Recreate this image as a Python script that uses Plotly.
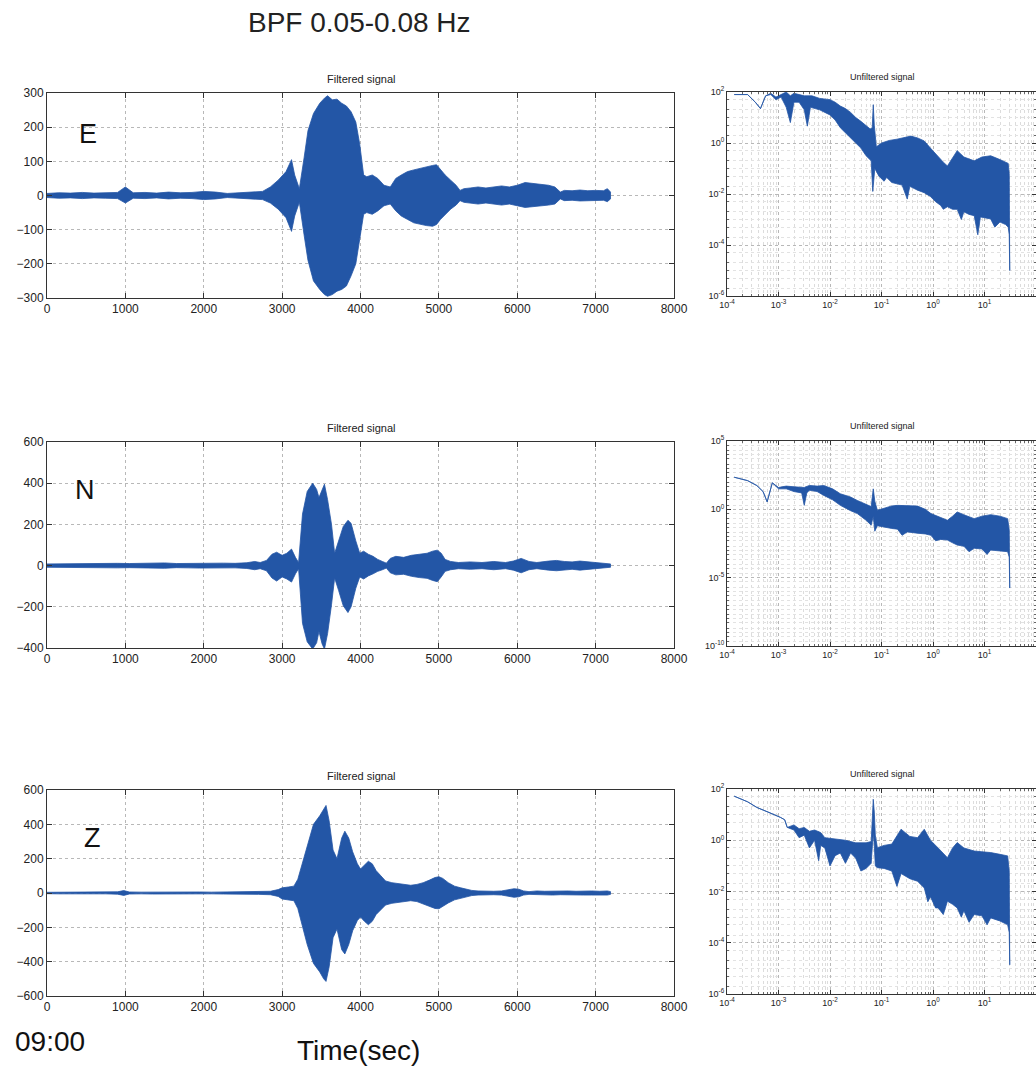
import plotly.graph_objects as go

# ---------------- data: filtered signal envelopes (time s, upper, lower) ----------------
E_t = [0,150,300,450,600,750,900,1000,1100,1250,1400,1550,1700,1850,2000,2150,2300,2450,2600,2750,
       2850,2950,3050,3120,3160,3220,3280,3330,3400,3480,3540,3580,3640,3700,3760,3820,3880,3940,3990,4040,
       4080,4150,4220,4300,4380,4450,4520,4600,4680,4760,4840,4920,4970,5020,5080,5150,5220,5270,5320,5400,
       5500,5600,5700,5800,5900,6000,6100,6200,6300,6400,6480,6550,6600,6700,6800,6900,7000,7100,7150,7190]
E_up = [6,8,7,9,7,8,9,25,8,9,7,10,8,9,12,10,6,8,10,12,
        25,45,70,105,60,20,110,190,240,270,285,292,280,282,270,262,245,215,150,60,
        55,60,50,30,25,50,60,70,75,80,85,88,90,75,60,45,30,15,20,22,
        25,22,25,28,25,30,38,35,32,30,25,10,15,14,16,14,15,14,20,10]
E_lo = [-6,-8,-7,-9,-7,-8,-9,-22,-8,-9,-7,-10,-8,-9,-12,-10,-6,-8,-10,-12,
        -22,-40,-65,-105,-60,-20,-115,-190,-250,-275,-290,-295,-290,-280,-275,-265,-235,-200,-130,-55,
        -50,-55,-45,-30,-25,-45,-60,-70,-80,-85,-88,-90,-85,-70,-55,-40,-28,-15,-20,-22,
        -25,-22,-25,-28,-25,-30,-35,-33,-30,-28,-25,-10,-15,-14,-16,-14,-15,-14,-18,-10]

N_t = [0,150,300,450,600,750,900,1050,1200,1350,1500,1650,1800,1950,2100,2250,2400,2550,2650,2720,
       2800,2870,2930,3000,3060,3120,3170,3210,3260,3320,3390,3440,3470,3510,3540,3580,3630,3670,3720,3780,
       3840,3880,3940,3990,4040,4100,4160,4220,4280,4330,4380,4450,4550,4650,4750,4850,4920,4980,5030,5080,
       5150,5250,5400,5550,5700,5850,5950,6050,6150,6250,6400,6500,6600,6700,6800,6900,7000,7100,7190]
N_up = [8,9,8,10,9,10,11,10,12,11,13,10,11,12,10,12,11,14,20,15,
        25,55,65,50,60,80,40,15,250,360,400,370,330,370,395,320,200,60,120,190,
        220,205,120,60,70,55,45,30,20,12,35,45,40,50,55,60,70,75,60,30,
        20,15,18,15,20,15,22,35,20,15,22,25,20,18,22,18,15,12,8]
N_lo = [-8,-9,-8,-10,-9,-10,-11,-10,-12,-11,-13,-10,-11,-12,-10,-12,-11,-14,-20,-15,
        -25,-60,-75,-55,-65,-80,-40,-15,-280,-370,-405,-375,-320,-380,-405,-330,-190,-60,-120,-195,
        -228,-200,-110,-55,-65,-50,-40,-28,-20,-12,-35,-45,-42,-52,-58,-62,-72,-78,-55,-28,
        -20,-15,-18,-15,-20,-15,-22,-35,-20,-15,-22,-25,-20,-18,-22,-18,-15,-12,-8]

Z_t = [0,150,300,450,600,750,900,980,1050,1200,1350,1500,1650,1800,1950,2100,2250,2400,2550,2700,
       2850,2950,3000,3080,3150,3200,3260,3320,3400,3480,3530,3560,3600,3650,3700,3760,3800,3850,3900,3960,
       4000,4050,4100,4150,4200,4260,4320,4400,4480,4560,4640,4720,4800,4880,4950,5000,5050,5120,5200,5280,
       5350,5420,5500,5600,5700,5800,5900,5960,6020,6080,6150,6250,6350,6450,6550,6650,6750,6850,6950,7050,
       7150,7190]
Z_up = [4,5,4,5,6,5,7,14,6,5,6,5,6,5,6,5,6,5,6,8,
        10,20,30,35,40,80,180,280,400,450,490,510,420,250,200,320,360,320,240,170,
        140,160,185,170,130,100,70,60,55,50,45,50,60,75,90,95,85,60,40,30,
        22,15,12,10,10,12,20,25,22,12,8,12,10,12,10,12,10,12,12,10,
        12,8]
Z_lo = [-4,-5,-4,-5,-6,-5,-7,-14,-6,-5,-6,-5,-6,-5,-6,-5,-6,-5,-6,-8,
        -10,-20,-35,-40,-45,-90,-200,-300,-410,-460,-500,-515,-430,-260,-210,-330,-355,-300,-220,-160,
        -140,-165,-185,-165,-125,-95,-70,-60,-55,-50,-45,-50,-62,-78,-90,-92,-80,-58,-40,-30,
        -22,-15,-12,-10,-10,-12,-20,-25,-22,-12,-8,-12,-10,-12,-10,-12,-10,-12,-12,-10,
        -12,-8]

# ---------------- data: unfiltered spectra envelopes (log10 f, log10 amplitude) ----------------
SE_up_lf = [-3.86,-3.6,-3.45,-3.35,-3.25,-3.15,-3.05,-2.95,-2.85,-2.77,
            -2.7,-2.6,-2.5,-2.35,-2.2,-2.0,-1.9,-1.8,-1.7,-1.6,
            -1.5,-1.4,-1.3,-1.22,-1.18,-1.16,-1.14,-1.1,-1.0,-0.85,
            -0.7,-0.55,-0.43,-0.3,-0.17,-0.05,0.1,0.2,0.28,0.38,
            0.47,0.6,0.8,0.95,1.12,1.3,1.41,1.46,1.48,1.49]
SE_up = [1.9,1.9,1.6,1.35,1.85,1.95,1.8,1.9,2.0,1.85,
         1.95,1.9,1.85,1.85,1.75,1.7,1.6,1.45,1.35,1.2,
         1.0,0.85,0.7,0.55,0.6,1.5,0.7,-0.15,0.0,0.1,
         0.15,0.2,0.27,0.2,0.08,-0.2,-0.55,-0.75,-0.9,-0.6,
         -0.3,-0.55,-0.7,-0.55,-0.5,-0.65,-0.75,-0.8,-1.2,-5.0]
SE_lo_lf = [-3.86,-3.6,-3.45,-3.35,-3.25,-3.15,-3.05,-2.95,-2.85,-2.77,
            -2.7,-2.6,-2.5,-2.44,-2.38,-2.2,-2.1,-2.0,-1.9,-1.8,
            -1.7,-1.6,-1.5,-1.4,-1.3,-1.2,-1.17,-1.13,-1.05,-0.95,
            -0.9,-0.8,-0.7,-0.6,-0.5,-0.45,-0.3,-0.17,-0.05,0.05,
            0.15,0.2,0.28,0.38,0.47,0.55,0.6,0.7,0.8,0.87,
            0.92,1.05,1.12,1.2,1.3,1.41,1.46,1.48,1.49]
SE_lo = [1.9,1.9,1.6,1.35,1.85,1.9,1.7,1.8,1.4,0.8,
         1.6,1.6,1.3,0.66,1.4,1.3,1.2,1.1,0.9,0.6,
         0.4,0.2,0.0,-0.2,-0.5,-0.7,-1.9,-1.0,-1.3,-1.5,
         -1.35,-1.55,-1.6,-1.65,-2.2,-1.7,-1.85,-1.95,-2.1,-2.3,
         -2.45,-2.6,-2.5,-2.6,-2.6,-3.0,-2.7,-2.8,-2.85,-3.6,
         -2.9,-2.95,-2.98,-3.3,-3.1,-3.2,-3.3,-3.6,-5.0]

SN_up_lf = [-3.86,-3.6,-3.42,-3.3,-3.22,-3.12,-3.0,-2.85,-2.7,-2.5,
            -2.4,-2.25,-2.12,-1.95,-1.8,-1.6,-1.47,-1.3,-1.2,-1.16,
            -1.13,-1.08,-0.95,-0.8,-0.69,-0.5,-0.3,-0.15,-0.04,0.15,
            0.28,0.38,0.47,0.6,0.8,0.95,1.12,1.3,1.45,1.48,
            1.49]
SN_up = [2.35,2.1,1.74,1.3,0.55,1.94,1.6,1.7,1.65,1.6,
         1.75,1.7,1.74,1.5,1.14,0.9,0.65,0.4,0.2,1.5,
         0.6,-0.07,0.1,0.25,0.29,0.25,0.24,0.0,-0.31,-0.6,
         -0.8,-0.5,-0.19,-0.4,-0.68,-0.5,-0.39,-0.5,-0.68,-1.5,
         -5.76]
SN_lo_lf = [-3.86,-3.6,-3.42,-3.3,-3.22,-3.12,-3.0,-2.85,-2.7,-2.55,
            -2.5,-2.45,-2.4,-2.25,-2.12,-1.95,-1.8,-1.6,-1.47,-1.3,
            -1.2,-1.16,-1.13,-1.08,-0.95,-0.8,-0.69,-0.6,-0.5,-0.3,
            -0.15,-0.04,0.05,0.15,0.28,0.38,0.47,0.6,0.7,0.8,
            0.95,1.05,1.12,1.3,1.45,1.48,1.49]
SN_lo = [2.35,2.1,1.74,1.3,0.55,1.94,1.5,1.5,1.3,1.2,
         0.29,1.2,1.4,1.3,1.02,0.7,0.29,-0.1,-0.31,-0.8,
         -1.16,-0.5,-1.6,-1.2,-1.3,-1.4,-1.45,-1.9,-1.65,-1.75,
         -1.8,-1.9,-2.3,-2.2,-2.25,-2.45,-2.61,-2.7,-3.1,-2.85,
         -2.9,-3.3,-2.98,-3.05,-3.1,-3.5,-5.76]

SZ_up_lf = [-3.86,-3.6,-3.42,-3.2,-2.96,-2.88,-2.83,-2.7,-2.6,-2.5,
            -2.4,-2.3,-2.18,-2.1,-1.9,-1.7,-1.5,-1.3,-1.2,-1.16,
            -1.14,-1.12,-1.08,-0.95,-0.8,-0.62,-0.45,-0.3,-0.17,-0.05,
            0.1,0.28,0.38,0.47,0.6,0.8,0.95,1.12,1.3,1.45,
            1.48,1.49]
SZ_up = [1.72,1.5,1.28,1.1,0.89,0.8,0.5,0.6,0.45,0.5,
         0.35,0.4,0.3,0.1,0.05,0.0,-0.1,-0.1,-0.05,1.6,
         1.1,0.2,-0.29,-0.2,-0.15,0.43,0.15,0.1,0.43,0.0,
         -0.3,-0.68,-0.3,-0.09,-0.3,-0.42,-0.45,-0.48,-0.55,-0.61,
         -1.2,-4.86]
SZ_lo_lf = [-3.86,-3.6,-3.42,-3.2,-2.96,-2.88,-2.83,-2.7,-2.6,-2.5,
            -2.4,-2.3,-2.22,-2.18,-2.1,-2.0,-1.9,-1.8,-1.7,-1.6,
            -1.5,-1.4,-1.3,-1.2,-1.16,-1.14,-1.12,-1.08,-0.95,-0.8,
            -0.7,-0.62,-0.45,-0.3,-0.17,-0.1,-0.05,0.05,0.1,0.2,
            0.28,0.38,0.47,0.55,0.6,0.7,0.8,0.95,1.05,1.12,
            1.3,1.45,1.48,1.49]
SZ_lo = [1.72,1.5,1.28,1.1,0.89,0.8,0.5,0.4,0.1,0.2,
         -0.3,0.0,-0.8,-0.2,-0.3,-1.0,-0.6,-0.5,-0.9,-0.5,
         -0.7,-1.2,-1.1,-0.9,0.3,-0.2,-1.0,-1.07,-1.1,-1.2,
         -1.8,-1.3,-1.5,-1.6,-1.86,-2.4,-2.2,-2.64,-2.64,-2.9,
         -2.38,-2.5,-2.64,-3.0,-2.75,-3.2,-2.9,-2.95,-3.3,-3.03,
         -3.15,-3.3,-3.6,-4.86]

COMPONENTS = ["E", "N", "Z"]
Y_RANGES = [(-300, 300, 100), (-400, 600, 200), (-600, 600, 200)]
SPEC_YTICKS = [[-6, -4, -2, 0, 2], [-10, -5, 0, 5], [-6, -4, -2, 0, 2]]
SPEC_XTICKS = [-4, -3, -2, -1, 0, 1]

W, H = 1036, 1067
BLUE = "#2356a6"
FONT = "Liberation Sans, Arial, sans-serif"
NARROW = "Liberation Sans Narrow, Liberation Sans, Arial, sans-serif"

def px(x):
    return x / W

def py(y):
    return 1 - y / H

def pow_label(k):
    return "10<sup>%d</sup>" % k

rows = [(93, 298), (442, 648), (790, 996)]
left_x = (47, 674)
right_x = (727, 1037)

fig = go.Figure()

signals = [(E_t, E_up, E_lo), (N_t, N_up, N_lo), (Z_t, Z_up, Z_lo)]
spectra = [(SE_up_lf, SE_up, SE_lo_lf, SE_lo),
           (SN_up_lf, SN_up, SN_lo_lf, SN_lo),
           (SZ_up_lf, SZ_up, SZ_lo_lf, SZ_lo)]

layout = {}
annotations = []

for i in range(3):
    top, bot = rows[i]
    la = 2 * i + 1
    ra = 2 * i + 2
    t, up, lo = signals[i]
    fig.add_trace(go.Scatter(
        x=list(t) + list(t[::-1]), y=list(up) + list(lo[::-1]),
        mode="lines", fill="toself", fillcolor=BLUE,
        line=dict(color=BLUE, width=0.8),
        xaxis=f"x{la}", yaxis=f"y{la}", showlegend=False, hoverinfo="skip"))
    ulf, uv, llf, lv = spectra[i]
    fx = [10 ** v for v in ulf] + [10 ** v for v in llf[::-1]]
    fy = [10 ** v for v in uv] + [10 ** v for v in lv[::-1]]
    fig.add_trace(go.Scatter(
        x=fx, y=fy, mode="lines", fill="toself", fillcolor=BLUE,
        line=dict(color=BLUE, width=0.8),
        xaxis=f"x{ra}", yaxis=f"y{ra}", showlegend=False, hoverinfo="skip"))

    common = dict(showline=True, linecolor="#333", linewidth=1, mirror="ticks",
                  ticks="inside", tickcolor="#333", zeroline=False, automargin=False,
                  showgrid=True, gridcolor="#b8b8b8", griddash="dot", gridwidth=1)
    y0, y1, dy = Y_RANGES[i]
    layout[f"xaxis{la}"] = dict(domain=[px(left_x[0]), px(left_x[1])], anchor=f"y{la}",
                                range=[0, 8000], dtick=1000, ticklen=5,
                                tickfont=dict(size=12, family=FONT, color="#222"), **common)
    layout[f"yaxis{la}"] = dict(domain=[py(bot), py(top)], anchor=f"x{la}",
                                range=[y0, y1], dtick=dy, ticklen=5,
                                tickfont=dict(size=12, family=FONT, color="#222"), **common)
    yt = SPEC_YTICKS[i]
    minor_x = dict(dtick="D1", ticks="inside", ticklen=2, tickcolor="#666", showgrid=True,
                   gridcolor="#dcdcdc", griddash="dot", gridwidth=1)
    minor_y = dict(dtick="D2", ticks="inside", ticklen=2, tickcolor="#666", showgrid=True,
                   gridcolor="#e2e2e2", griddash="dot", gridwidth=1)
    layout[f"xaxis{ra}"] = dict(domain=[px(right_x[0]), 1.0], anchor=f"y{ra}",
                                type="log", range=[-4, 2], tickmode="array",
                                tickvals=[10 ** k for k in SPEC_XTICKS],
                                ticktext=[pow_label(k) for k in SPEC_XTICKS],
                                ticklen=4, minor=minor_x,
                                tickfont=dict(size=9, family=NARROW, color="#222"), **common)
    layout[f"yaxis{ra}"] = dict(domain=[py(bot - 2), py(top - 1)], anchor=f"x{ra}",
                                type="log", range=[yt[0], yt[-1]], tickmode="array",
                                tickvals=[10 ** k for k in yt],
                                ticktext=[pow_label(k) for k in yt],
                                ticklen=4, minor=minor_y,
                                tickfont=dict(size=9, family=NARROW, color="#222"), **common)

    annotations.append(dict(text="Filtered signal", x=px((left_x[0] + left_x[1]) / 2), y=py(top - 14),
                            xref="paper", yref="paper", showarrow=False, xanchor="center", yanchor="middle",
                            font=dict(size=11, family=FONT, color="#222")))
    annotations.append(dict(text="Unfiltered signal", x=px(882), y=py(top - 16),
                            xref="paper", yref="paper", showarrow=False, xanchor="center", yanchor="middle",
                            font=dict(size=9, family=NARROW, color="#222")))

letters_pos = [(88, 134), (85, 490), (92, 838)]
for c, (lx, ly) in zip(COMPONENTS, letters_pos):
    annotations.append(dict(text=c, x=px(lx), y=py(ly), xref="paper", yref="paper", showarrow=False,
                            xanchor="center", yanchor="middle", font=dict(size=27, family=FONT, color="#111")))

annotations.append(dict(text="BPF 0.05-0.08 Hz", x=px(359), y=py(22), xref="paper", yref="paper",
                        showarrow=False, xanchor="center", yanchor="middle",
                        font=dict(size=28, family=FONT, color="#222")))
annotations.append(dict(text="09:00", x=px(50), y=py(1041), xref="paper", yref="paper",
                        showarrow=False, xanchor="center", yanchor="middle",
                        font=dict(size=28, family=FONT, color="#111")))
annotations.append(dict(text="Time(sec)", x=px(358), y=py(1050), xref="paper", yref="paper",
                        showarrow=False, xanchor="center", yanchor="middle",
                        font=dict(size=28, family=FONT, color="#111")))

fig.update_layout(width=W, height=H, margin=dict(l=0, r=0, t=0, b=0),
                  paper_bgcolor="white", plot_bgcolor="white",
                  annotations=annotations, showlegend=False, **layout)

fig.write_html("out.html", config={"displayModeBar": False},
               post_script="document.body.style.margin='0';document.body.style.overflow='hidden';")
